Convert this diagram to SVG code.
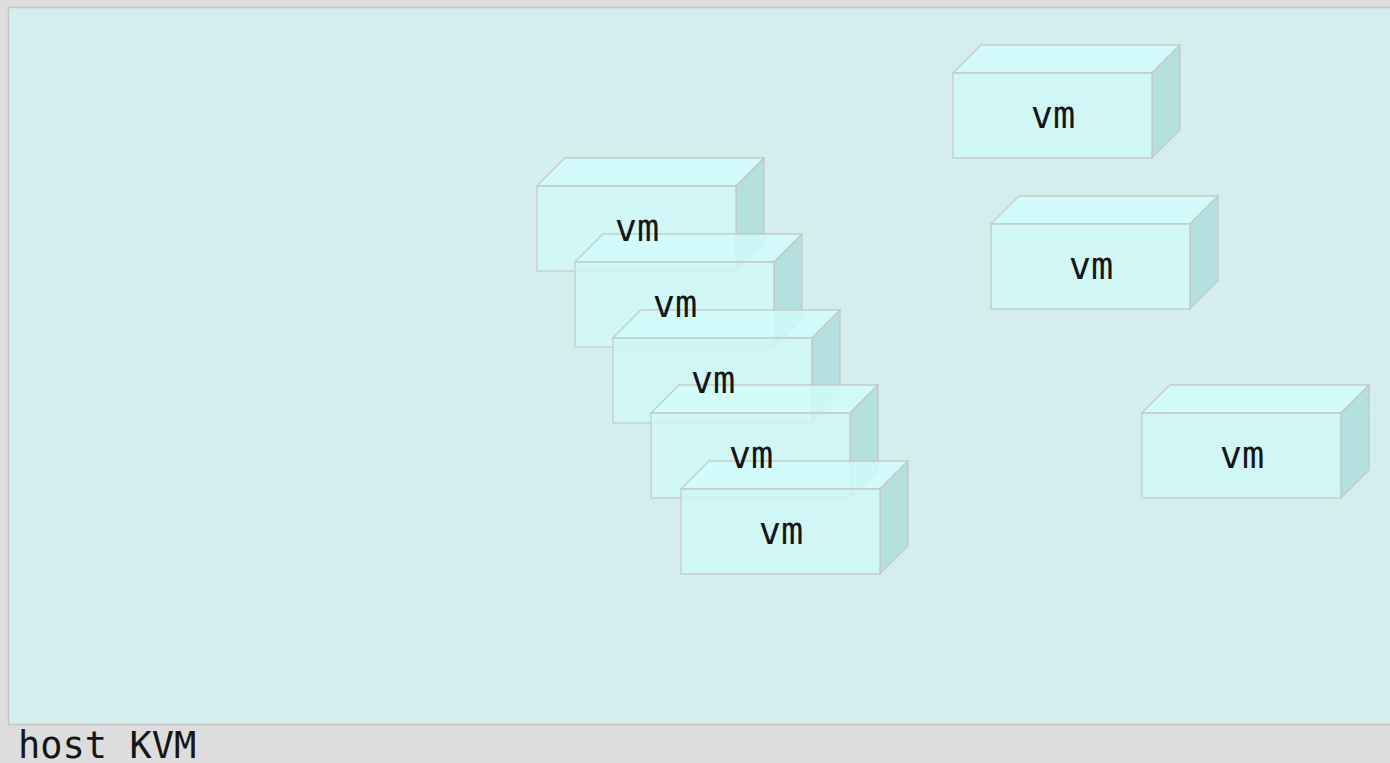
<svg xmlns="http://www.w3.org/2000/svg" width="1390" height="763" viewBox="0 0 1390 763">
<style>
.f{fill:#cff7f7;fill-opacity:.8;stroke:#c4c4c4;stroke-width:1.3;stroke-opacity:.85}
.t{fill:#d2fdfd;fill-opacity:.8;stroke:#c4c4c4;stroke-width:1.3;stroke-opacity:.85}
.r{fill:#addcdc;fill-opacity:.8;stroke:#c4c4c4;stroke-width:1.3;stroke-opacity:.85}
.l{font-family:"DejaVu Sans Mono",monospace;font-size:37px;fill:#161616;text-anchor:middle}
</style>
<defs>
<g id="box">
<polygon class="t" points="0,0 28,-28 227,-28 199,0"/>
<polygon class="r" points="199,0 227,-28 227,57 199,85"/>
<rect class="f" x="0" y="0" width="199" height="85"/>
</g>
</defs>
<rect x="0" y="0" width="1390" height="763" fill="#dddddd"/>
<g id="host">
<rect x="8.5" y="7.5" width="1390" height="717" fill="#d4eded" stroke="#c6c6c6" stroke-width="1.5"/>
<text x="18" y="758" font-family="DejaVu Sans Mono,monospace" font-size="37" fill="#161616">host KVM</text>
</g>
<g id="connectors"/>
<g id="vm1"><use href="#box" x="953" y="73"/><text class="l" x="1053" y="128">vm</text></g>
<g id="vm2"><use href="#box" x="991" y="224"/><text class="l" x="1091" y="279">vm</text></g>
<g id="vm3"><use href="#box" x="1142" y="413"/><text class="l" x="1242" y="468">vm</text></g>
<g id="vm4"><use href="#box" x="537" y="186"/></g>
<g id="vm5"><use href="#box" x="575" y="262"/></g>
<g id="vm6"><use href="#box" x="613" y="338"/></g>
<g id="vm7"><use href="#box" x="651" y="413"/></g>
<g id="vm8"><use href="#box" x="681" y="489"/></g>
<g id="stack-labels">
<text class="l" x="637" y="241">vm</text>
<text class="l" x="675" y="317">vm</text>
<text class="l" x="713" y="393">vm</text>
<text class="l" x="751" y="468">vm</text>
<text class="l" x="781" y="544">vm</text>
</g>
</svg>
